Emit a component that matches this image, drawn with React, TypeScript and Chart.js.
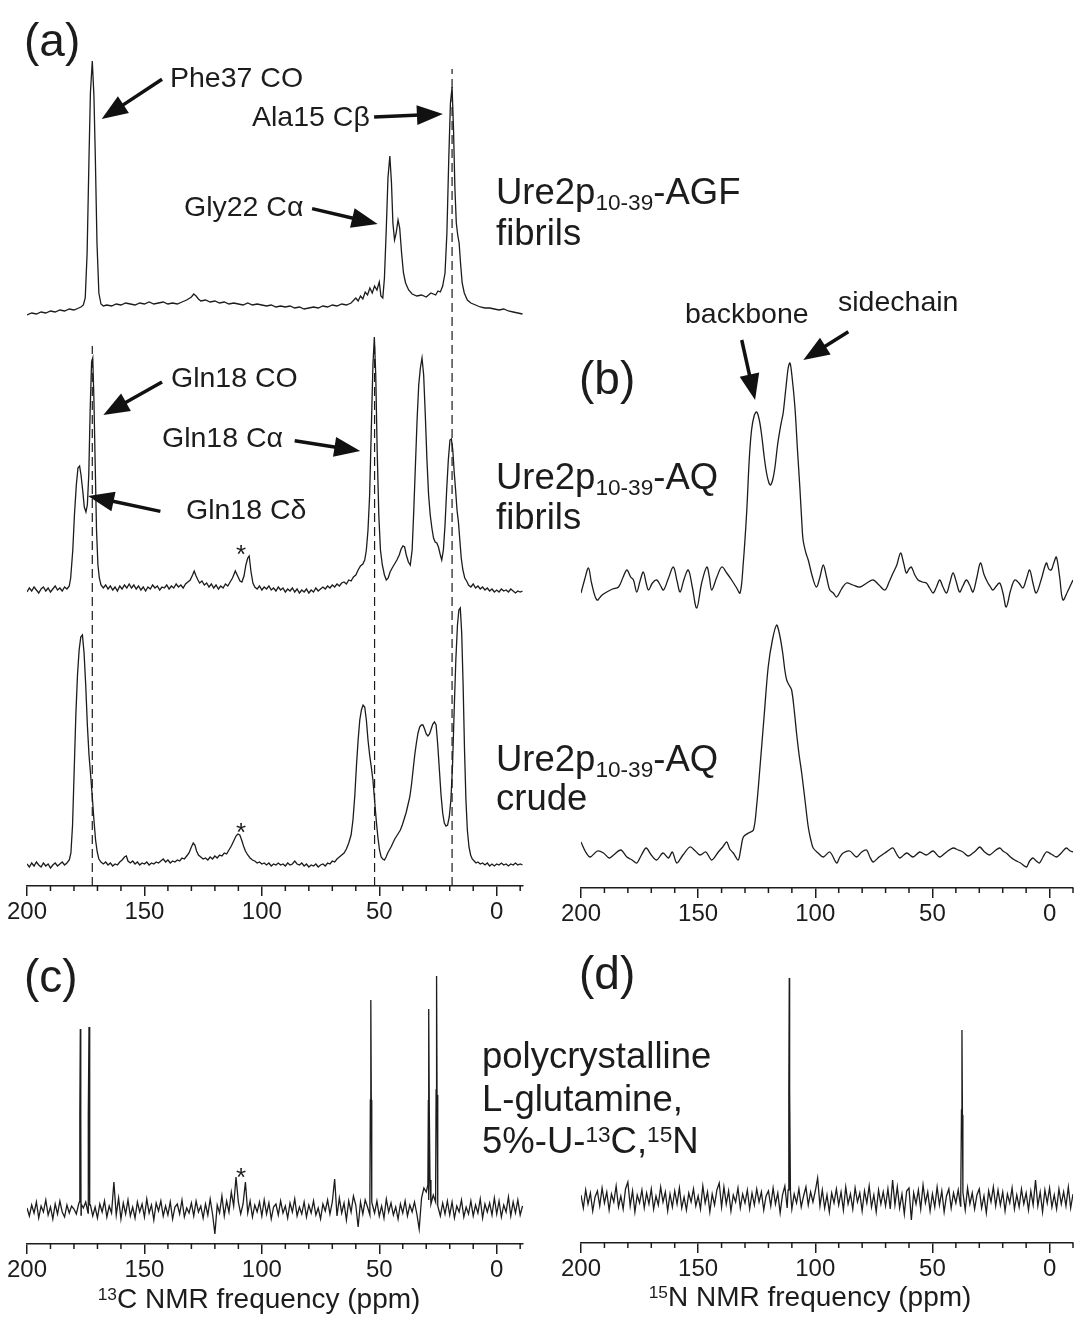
import React, { useEffect, useRef } from "react";
import { Chart, registerables } from "chart.js";

Chart.register(...registerables);

const FONT = "'Liberation Sans', Arial, Helvetica, sans-serif";
const INK = "#1c1c1c";
Chart.defaults.font.family = FONT;

type Pair = [number, number];

// ---------- axis ticks ----------
const majorTicks = [200, 150, 100, 50, 0];
const minorTicks = [190, 180, 170, 160, 140, 130, 120, 110, 90, 80, 70, 60, 40, 30, 20, 10, -10];

// ---------- (a) 13C spectra: [ppm, intensity] ----------
const agfFibrils13C: Pair[] = [
  [200, -7], [198, -5], [196, -6], [194, -4], [192, -5], [190, -3], [188, -4], [186, -2], [184, -3], [182, -1], [180, -2], [178, 0],
  [177, 1], [176, 3], [175.2, 10], [174.4, 55], [173.6, 150], [173.0, 215], [172.2, 247], [171.5, 212], [170.9, 150], [170.2, 65],
  [169.4, 15], [168.5, 4], [167.5, 2], [166, 3], [164, 2], [162, 4], [160, 3], [158, 5], [156, 4], [154, 3], [152, 5], [150, 4],
  [148, 6], [146, 4], [144, 5], [142, 6], [140, 4], [138, 5], [136, 4], [134, 6], [132, 8], [130, 11], [129, 14], [128, 12], [127, 9],
  [126, 7], [124, 8], [122, 6], [120, 7], [118, 5], [116, 6], [114, 4], [112, 5], [110, 4], [108, 3], [106, 5], [104, 3], [102, 4],
  [100, 3], [98, 2], [96, 3], [94, 1], [92, 2], [90, 1], [88, 2], [86, 0], [84, 1], [82, -1], [80, 0], [78, 1], [76, 0], [74, 2],
  [72, 1], [70, 3], [68, 2], [66, 4], [64, 3], [62, 5], [60, 10], [59, 7], [58, 12], [57, 9], [56, 16], [55, 13], [54, 20], [53, 15],
  [52, 22], [51, 18], [50, 26], [49.3, 12], [48.5, 10], [47.8, 30], [47, 80], [46.3, 130], [45.5, 152], [44.8, 125], [44.2, 85],
  [43.5, 68], [42.8, 75], [42, 88], [41.3, 80], [40.5, 55], [39.7, 35], [38.8, 25], [37.5, 18], [36, 14], [34, 12], [32, 13], [30, 11],
  [28, 15], [26, 13], [25, 17], [24, 16], [23, 22], [22, 35], [21.2, 75], [20.4, 150], [19.7, 205], [19.0, 221], [18.4, 180],
  [17.8, 120], [17.2, 85], [16.6, 73], [16, 65], [15.4, 45], [14.7, 25], [13.8, 15], [12.5, 8], [11, 5], [9, 3], [7, 1], [5, 0],
  [3, 0], [1, -1], [-1, -2], [-3, -1], [-5, -3], [-7, -4], [-9, -5], [-11, -6],
];

const aqFibrils13C: Pair[] = [
  [200, -2], [199, 2], [198, -1], [197, 3], [196, 0], [195, -3], [194, 1], [193, 3], [192, -1], [191, 2], [190, -2], [189, 1],
  [188, 4], [187, 0], [186, 2], [185, -1], [184, 3], [183, 1], [182, 4], [181.4, 12], [180.5, 40], [179.8, 75], [179, 105],
  [178.3, 122], [177.6, 124], [177, 115], [176.3, 100], [175.6, 83], [174.9, 78], [174.3, 85], [173.7, 115], [173.1, 180],
  [172.5, 228], [172.0, 232], [171.5, 190], [171, 130], [170.4, 60], [169.8, 25], [169.2, 12], [168.5, 5], [167.5, 2], [166.5, 5],
  [165.5, 1], [164.5, 4], [163.5, 0], [162.5, 3], [161.5, -1], [160.5, 4], [159.5, 1], [158.5, 5], [157.5, 2], [156.5, 6],
  [155.5, 2], [154.5, 5], [153.5, 1], [152.5, 4], [151.5, 0], [150.5, 3], [149.5, -1], [148.5, 3], [147.5, 1], [146.5, 5],
  [145.5, 2], [144.5, 4], [143.5, 0], [142.5, 3], [141.5, 2], [140.5, 5], [139.5, 1], [138.5, 4], [137.5, 2], [136.5, 6],
  [135.5, 3], [134.5, 5], [133.5, 2], [132.5, 6], [131.5, 8], [130.5, 10], [129.5, 15], [128.8, 19], [128, 14], [127.2, 10],
  [126.5, 7], [125.5, 9], [124.5, 5], [123.5, 7], [122.5, 3], [121.5, 6], [120.5, 2], [119.5, 5], [118.5, 1], [117.5, 4],
  [116.5, 2], [115.5, 6], [114.5, 4], [113.5, 8], [112.5, 12], [111.3, 19], [110.3, 14], [109.3, 9], [108.5, 8], [107.6, 14],
  [106.8, 25], [106, 32], [105.4, 34], [104.6, 18], [103.8, 7], [103, 3], [102, 1], [101, 4], [100, 0], [99, 3], [98, 1], [97, 4],
  [96, 0], [95, 2], [94, -1], [93, 3], [92, 0], [91, 2], [90, -2], [89, 1], [88, -1], [87, 2], [86, -2], [85, 1], [84, -3], [83, 0],
  [82, -2], [81, 1], [80, -3], [79, 0], [78, -2], [77, 2], [76, -1], [75, 1], [74, 3], [73, 1], [72, 4], [71, 2], [70, 5], [69, 3],
  [68, 6], [67, 4], [66, 7], [65, 8], [64, 6], [63, 10], [62, 9], [61, 13], [60, 15], [59, 20], [58, 24], [57, 26], [56.2, 30],
  [55.5, 40], [54.8, 60], [54.1, 95], [53.4, 160], [52.7, 225], [52.1, 253], [51.5, 215], [50.9, 140], [50.2, 75], [49.5, 40],
  [48.7, 25], [47.8, 15], [47, 10], [46.2, 12], [45.4, 18], [44.5, 22], [43.5, 26], [42.5, 30], [41.5, 35], [40.7, 41], [39.9, 44],
  [39.2, 43], [38.5, 35], [37.6, 28], [36.8, 25], [36, 40], [35.3, 80], [34.6, 125], [33.9, 170], [33.2, 205], [32.5, 222],
  [31.8, 232], [31.1, 215], [30.4, 175], [29.7, 130], [29, 95], [28.3, 75], [27.6, 62], [26.9, 52], [26.2, 48], [25.5, 47],
  [24.8, 43], [24.1, 36], [23.4, 30], [22.7, 40], [22, 65], [21.3, 100], [20.6, 130], [19.9, 150], [19.3, 151], [18.7, 140],
  [18.1, 118], [17.5, 100], [16.9, 80], [16.3, 68], [15.7, 50], [15.1, 32], [14.4, 20], [13.6, 12], [12.8, 9], [12, 5], [11, 3],
  [10, 6], [9, 2], [8, 4], [7, 1], [6, 3], [5, 0], [4, 2], [3, -1], [2, 1], [1, -2], [0, 0], [-1, -2], [-2, 1], [-3, -1], [-4, 0],
  [-5, -2], [-6, 1], [-7, -1], [-8, -3], [-9, -1], [-10, -2], [-11, -1],
];

const aqCrude13C: Pair[] = [
  [200, 1], [199, -2], [198, 2], [197, -1], [196, 3], [195, 0], [194, -2], [193, 2], [192, -1], [191, 1], [190, -3], [189, 0],
  [188, 2], [187, -1], [186, 1], [185, 3], [184, 0], [183, 2], [182, 5], [181.3, 12], [180.6, 40], [179.9, 95], [179.2, 150],
  [178.5, 190], [177.8, 215], [177.1, 228], [176.4, 230], [175.7, 212], [175, 180], [174.3, 140], [173.6, 110], [172.9, 90],
  [172.2, 68], [171.5, 45], [170.8, 25], [170.1, 13], [169.4, 6], [168.5, 3], [167.5, 1], [166.5, 3], [165.5, 0], [164.5, 2],
  [163.5, -1], [162.5, 1], [161.5, 0], [160.5, 3], [159.5, 5], [158.5, 8], [157.7, 9], [157, 4], [156, 2], [155, 4], [154, 1],
  [153, 3], [152, 0], [151, 2], [150, 1], [149, 3], [148, 0], [147, 2], [146, 1], [145, 3], [144, 2], [143, 4], [142, 6], [141, 3],
  [140, 5], [139, 2], [138, 4], [137, 3], [136, 5], [135, 4], [134, 7], [133, 6], [132, 9], [131, 12], [130, 18], [129.2, 22],
  [128.5, 20], [127.8, 14], [127, 10], [126, 8], [125, 6], [124, 7], [123, 5], [122, 8], [121, 6], [120, 9], [119, 7], [118, 10],
  [117, 9], [116, 12], [115, 11], [114, 15], [113, 19], [112, 24], [111, 29], [110.2, 31], [109.4, 30], [108.6, 25], [107.8, 19],
  [107, 14], [106, 10], [105, 7], [104, 5], [103, 4], [102, 2], [101, 3], [100, 1], [99, 2], [98, 0], [97, 2], [96, -1], [95, 1],
  [94, 0], [93, 2], [92, 0], [91, 1], [90, -1], [89, 2], [88, 0], [87, 1], [86, 4], [85, 1], [84, 0], [83, 2], [82, -1], [81, 1],
  [80, -2], [79, 0], [78, -1], [77, 1], [76, -2], [75, 0], [74, 1], [73, -1], [72, 2], [71, 1], [70, 4], [69, 3], [68, 6], [67, 8],
  [66, 10], [65, 12], [64, 16], [63, 22], [62, 30], [61.2, 45], [60.4, 70], [59.7, 100], [59, 125], [58.3, 145], [57.6, 155],
  [56.9, 160], [56.2, 158], [55.5, 145], [54.8, 125], [54.1, 110], [53.4, 98], [52.7, 85], [52, 65], [51.3, 45], [50.6, 28],
  [49.9, 15], [49.2, 8], [48.5, 6], [47.8, 5], [47.1, 8], [46.4, 12], [45.7, 15], [45, 18], [44.2, 22], [43.4, 26], [42.6, 29],
  [41.8, 32], [41, 35], [40.2, 40], [39.4, 46], [38.6, 52], [37.8, 60], [37, 68], [36.3, 80], [35.6, 95], [34.9, 110], [34.2, 122],
  [33.5, 132], [32.8, 138], [32.1, 140], [31.4, 140], [30.7, 136], [30, 131], [29.3, 129], [28.6, 131], [27.9, 136], [27.2, 141],
  [26.5, 143], [25.8, 140], [25.1, 120], [24.4, 95], [23.7, 70], [23, 52], [22.3, 42], [21.6, 39], [20.9, 40], [20.2, 48],
  [19.5, 65], [18.8, 100], [18.1, 155], [17.4, 205], [16.7, 240], [16.1, 255], [15.5, 257], [14.9, 232], [14.3, 180], [13.7, 115],
  [13.1, 65], [12.5, 35], [11.8, 18], [11.1, 10], [10.4, 6], [9.6, 4], [8.8, 2], [8, 3], [7, 1], [6, 2], [5, 0], [4, 2], [3, -1],
  [2, 1], [1, -1], [0, 1], [-1, 0], [-2, 2], [-3, 0], [-4, 1], [-5, -1], [-6, 1], [-7, 0], [-8, 2], [-9, 0], [-10, 1], [-11, 0],
];

// reference lines in (a): ppm position and height (intensity units above the axis)
const dashedPpm = [172.2, 52.0, 19.0];
const dashedTop = [540, 540, 817];

// ---------- (b) 15N spectra ----------
const aqFibrils15N: Pair[] = [
  [200, -8], [198.5, 5], [196.8, 17], [195.5, 2], [193.2, -15], [191, -10], [189, -7], [186.5, -4], [184, -2], [182, 8], [180.4, 15],
  [178.8, 8], [177.6, 5], [176.2, -7], [174.8, 4], [173.4, 13], [172.2, 2], [171.2, -5], [169.5, 2], [167.7, 5], [166.2, 0],
  [164.8, -5], [162.8, 6], [160.6, 18], [159, 4], [157.7, -7], [156, 6], [154.2, 15], [152.5, -2], [150.6, -23], [148.5, 2],
  [146.3, 18], [145.2, 8], [144.2, -5], [142, 8], [139.9, 18], [137.8, 12], [135.7, 5], [133.8, -2], [132.1, -8], [130.8, 20],
  [129.3, 72], [128.2, 125], [127.2, 155], [126, 170], [125, 173], [123.9, 165], [122.9, 150], [121.8, 128], [120.8, 112],
  [119.9, 103], [119.1, 100], [118.1, 106], [117.2, 118], [116.1, 140], [115.1, 155], [114.3, 165], [113.7, 172], [112.5, 198],
  [111.5, 218], [110.8, 222], [110, 210], [108.7, 178], [107.6, 135], [106.6, 98], [105.8, 65], [105.2, 45], [104, 32], [103, 25],
  [101.2, 8], [99.5, -2], [98, 8], [96.6, 20], [95.2, 8], [93.8, -5], [92.3, -8], [90.9, -12], [88.8, -4], [86.7, 2], [84, 0],
  [81, -2], [78, 2], [75.3, 5], [72.8, 0], [70.3, -5], [68.5, 3], [66.8, 12], [65.2, 20], [63.6, 32], [62.3, 22], [61.1, 12],
  [60, 16], [59, 18], [57.5, 10], [56.1, 5], [54.3, 3], [52.6, 2], [51.2, -3], [49.7, -8], [48.3, -2], [46.9, 5], [45.5, -2],
  [44, -8], [42.6, 2], [41.2, 12], [39.8, 3], [38.4, -7], [37, -1], [35.5, 5], [34.1, 0], [32.7, -7], [31, 8], [29.5, 22],
  [27.9, 10], [26.3, 2], [25.2, -2], [24.2, -5], [22.7, -1], [21.3, 2], [19.9, -8], [18.5, -22], [16.7, -6], [14.9, 5], [13.1, 2],
  [11.4, -3], [9.9, 6], [8.5, 15], [7.1, 2], [5.7, -8], [3.5, 6], [1.4, 22], [0.3, 16], [-0.7, 15], [-1.8, 22], [-2.9, 28],
  [-4.3, 8], [-5.7, -15], [-7.8, -6], [-10, 5],
];

const aqCrude15N: Pair[] = [
  [200, 13], [198, 3], [196.1, -2], [193, 4], [190.4, 2], [188, -3], [186.1, 0], [183, 5], [180.4, -2], [178.2, -5], [176.2, -8],
  [174.2, 0], [172.2, 7], [170, 0], [167.7, -5], [165, 2], [162.7, -3], [161, 3], [159.1, -8], [156.5, 0], [153.5, 8], [151.2, 4],
  [149.2, 0], [146.7, 3], [144.2, -5], [141.4, 3], [139.5, 8], [137.8, 13], [136.5, 6], [135, 2], [132.9, -5], [131.8, 6],
  [130.7, 18], [128.5, 22], [126.4, 25], [125, 50], [123.6, 88], [121.8, 140], [120.1, 188], [118.3, 215], [116.5, 230],
  [115.2, 220], [113.9, 202], [113, 185], [112.2, 175], [111.2, 170], [110.1, 165], [109, 145], [108, 122], [106.9, 100],
  [105.8, 82], [104.4, 55], [103, 28], [101.9, 15], [100.9, 7], [98.8, 2], [96.6, -2], [93.8, 3], [90.9, -8], [89.5, -2], [88.1, 2],
  [85.3, 4], [82.4, -2], [80.2, 3], [78.1, 5], [76.7, -2], [75.3, -7], [72.8, -2], [70.3, 2], [68.5, 5], [66.8, 7], [65.3, 1],
  [63.9, -3], [61, 2], [58.3, -2], [55.4, 3], [52.6, 0], [49.7, 4], [46.9, -2], [44, 3], [41.2, 7], [39, 5], [37, 3], [34.8, -1],
  [32.7, 2], [31.2, 5], [29.8, 8], [27.7, 3], [25.6, 0], [23.4, 4], [21.3, 7], [19.9, 4], [18.5, 2], [16.7, -2], [14.9, -5],
  [12.4, -8], [9.9, -12], [8.5, -6], [7.1, -3], [5.7, -6], [4.3, -8], [2.8, -2], [1.4, 3], [-0.7, 1], [-2.9, -2], [-5, 2],
  [-7.1, 7], [-8.8, 4], [-10, 3],
];

// ---------- (c) polycrystalline L-glutamine 13C ----------
const glnNoiseStart13C = 200; // ppm of first noise sample, 1 ppm per sample
const glnNoise13C: number[] = [
  2, -6, 5, -3, 8, -8, 4, -2, 10, -5,
  3, -9, 6, -4, 9, -2, -7, 5, -3, 4,
  1, -4, 6, -5, 2, 8, -3, 5, -6, 3,
  -8, 6, -2, 9, -7, 4, -3, 28, -5, 12,
  -9, 7, -4, 10, -6, 3, -8, 8, -2, 6,
  -7, 11, -3, 5, -10, 7, -1, 9, -6, 4,
  -5, 8, -9, 3, 6, -4, 10, -7, 2, -3,
  7, -6, 9, -2, 4, -8, 6, -5, 11, -4,
  -24, 5, -3, 14, -6, 9, -2, 18, 4, 33,
  8, -4, 6, 28, -3, 9, -7, 5, -2, 8,
  -6, 10, -4, 7, -9, 3, 6, -5, 9, -3,
  4, -8, 7, -2, 11, -6, 3, -4, 8, -7,
  5, -3, 9, -5, 2, -9, 6, -1, 10, -4,
  8, 31, -6, 12, -3, 7, -10, 9, -2, 14,
  5, -17, 8, -4, 10, 3, -5, 6, -3, 9,
  -6, 4, -8, 11, -2, 7, -5, 3, -9, 6,
  -3, 9, -6, 5, -2, 8, -4, -19, 12, 22,
  18, 10, 6, 15, 8, 4, -6, 7, -4, 9,
  -5, 8, -8, 4, -2, 10, -7, 3, -4, 9,
  -6, 5, -3, 11, -8, 6, -2, 7, -5, 12,
  -4, 9, -7, 5, -2, 13, -6, 8, -3, 10, -5, 4,
];
const glnPeaks13C: Pair[] = [
  [177.7, 8], [177.5, 95], [177.3, 181], [177.1, 95], [176.9, 6],
  [174.0, 7], [173.8, 95], [173.6, 183], [173.4, 95], [173.2, 5],
  [54.0, 10], [53.8, 110], [53.6, 210], [53.4, 110], [53.2, 8],
  [29.3, 25], [29.1, 110], [28.9, 201], [28.7, 100], [28.4, 30],
  [26.0, 20], [25.8, 120], [25.6, 234], [25.4, 115], [25.2, 12],
];

// ---------- (d) polycrystalline L-glutamine 15N ----------
const glnNoiseStart15N = 200;
const glnNoise15N: number[] = [
  5, -8, 10, -4, 7, -11, 3, 9, -6, 12,
  -3, 8, -10, 6, -2, 14, -7, 4, -9, 11,
  18, -6, 9, -12, 5, -3, 10, -8, 7, -4,
  11, -9, 4, -5, 13, -2, 8, -11, 6, -7,
  9, -4, 12, -8, 3, -10, 7, -2, 11, -6,
  4, -9, 14, -3, 8, -12, 6, -5, 10, 17,
  -7, 13, -4, 9, -11, 5, -2, 12, -8, 6,
  -3, 10, -9, 7, -5, 11, -2, 8, -10, 4,
  9, -6, 12, -4, 7, -13, 5, 14, -8, 10,
  -9, 6, -3, 11, -7, 4, 13, -5, 8, -2,
  9, 22, -6, 10, -8, 5, -12, 7, -3, 11,
  -5, 8, -10, 13, -4, 6, -9, 12, -2, 7,
  -11, 9, -3, 14, -7, 5, -12, 10, -4, 8,
  -6, 11, -9, 20, -5, 13, -8, 6, -14, 9,
  12, -20, 7, -4, 10, -9, 15, -3, 8, -11,
  6, -7, 13, -5, 9, -12, 4, 11, -8, 7,
  -3, 10, -6, 8, -10, 12, -4, 7, -9, 5,
  11, -8, 4, -13, 9, -2, 13, -6, 10, -5,
  8, -11, 6, -3, 12, -9, 5, -7, 11, -4,
  7, -10, 9, -5, 20, -6, 8, -12, 10, -3,
  12, -7, 5, -9, 11, -4, 8, -6, 13, -8, 6,
];
const glnPeaks15N: Pair[] = [
  [111.6, 10], [111.3, 110], [111.1, 222], [110.9, 110], [110.6, 8],
  [37.9, 8], [37.6, 90], [37.4, 170], [37.2, 85], [36.9, 6],
];

// ---------- helpers ----------
function mergeSpectrum(noise: number[], start: number, peaks: Pair[]): Pair[] {
  const pts: Pair[] = noise.map((v, i) => [start - i, v] as Pair);
  return pts.concat(peaks).sort((a, b) => b[0] - a[0]);
}

function lineSet(pairs: Pair[], offset: number, width = 1.3, tension = 0) {
  return {
    data: pairs.map(([x, y]) => ({ x, y: y + offset })),
    showLine: true,
    borderColor: INK,
    borderWidth: width,
    pointRadius: 0,
    tension,
  };
}

type Arrow = { from: Pair; to: Pair };

const decorPlugin = {
  id: "decor",
  afterDraw(chart: any, _args: any, opts: any) {
    const { ctx, chartArea, scales } = chart;
    const xs = scales.x;
    const ys = scales.y;
    ctx.save();
    ctx.strokeStyle = INK;
    ctx.lineWidth = 1.5;
    for (const v of opts.minor || []) {
      const px = xs.getPixelForValue(v);
      ctx.beginPath();
      ctx.moveTo(px, chartArea.bottom);
      ctx.lineTo(px, chartArea.bottom + 5);
      ctx.stroke();
    }
    for (const a of (opts.arrows || []) as Arrow[]) {
      const x1 = xs.getPixelForValue(a.from[0]);
      const y1 = ys.getPixelForValue(a.from[1]);
      const x2 = xs.getPixelForValue(a.to[0]);
      const y2 = ys.getPixelForValue(a.to[1]);
      const ang = Math.atan2(y2 - y1, x2 - x1);
      const hl = 26;
      const hw = 10;
      const c = Math.cos(ang);
      const s = Math.sin(ang);
      const bx = x2 - hl * c;
      const by = y2 - hl * s;
      ctx.lineWidth = 3.5;
      ctx.strokeStyle = "#111";
      ctx.beginPath();
      ctx.moveTo(x1, y1);
      ctx.lineTo(bx + 3 * c, by + 3 * s);
      ctx.stroke();
      ctx.fillStyle = "#111";
      ctx.beginPath();
      ctx.moveTo(x2, y2);
      ctx.lineTo(bx - hw * s, by + hw * c);
      ctx.lineTo(bx + hw * s, by - hw * c);
      ctx.closePath();
      ctx.fill();
    }
    ctx.restore();
  },
};

interface PanelCfg {
  canvasW: number;
  canvasH: number;
  axisY: number;
  padL: number;
  padR: number;
  xMin: number;
  xMax: number;
  datasets: any[];
  arrows: Arrow[];
}

function buildConfig(p: PanelCfg): any {
  return {
    type: "scatter",
    data: { datasets: p.datasets },
    options: {
      responsive: false,
      animation: false,
      devicePixelRatio: 1,
      layout: { padding: { left: p.padL, right: p.padR, top: 0, bottom: 0 } },
      plugins: {
        legend: { display: false },
        tooltip: { enabled: false },
        decor: { minor: minorTicks, arrows: p.arrows },
      },
      scales: {
        x: {
          type: "linear",
          min: p.xMin,
          max: p.xMax,
          reverse: true,
          afterBuildTicks: (s: any) => {
            s.ticks = majorTicks.map((v) => ({ value: v }));
          },
          afterFit: (s: any) => {
            s.height = p.canvasH - p.axisY;
          },
          border: { display: true, color: INK, width: 1.5 },
          grid: { display: true, drawOnChartArea: false, drawTicks: true, tickLength: 10, color: INK, lineWidth: 1.5 },
          ticks: { autoSkip: false, maxRotation: 0, padding: 2, color: INK, font: { family: FONT, size: 24 } },
        },
        y: { display: false, min: 0, max: p.axisY },
      },
    },
    plugins: [decorPlugin],
  };
}

function Panel({ left, top, cfg }: { left: number; top: number; cfg: PanelCfg }) {
  const ref = useRef<HTMLCanvasElement>(null);
  useEffect(() => {
    const chart = new Chart(ref.current as HTMLCanvasElement, buildConfig(cfg));
    return () => chart.destroy();
  }, []);
  return (
    <canvas
      ref={ref}
      width={cfg.canvasW}
      height={cfg.canvasH}
      style={{ position: "absolute", left, top, width: cfg.canvasW, height: cfg.canvasH }}
    />
  );
}

function Label({ x, base, size, center, children }: { x: number; base: number; size: number; center?: boolean; children: any }) {
  return (
    <div
      style={{
        position: "absolute",
        left: x,
        top: base - 0.8465 * size,
        fontSize: size,
        lineHeight: `${size}px`,
        fontFamily: FONT,
        color: INK,
        whiteSpace: "nowrap",
        transform: center ? "translateX(-50%)" : undefined,
      }}
    >
      {children}
    </div>
  );
}

const Sub = ({ children }: any) => (
  <span style={{ fontSize: "0.62em", position: "relative", top: "0.28em" }}>{children}</span>
);
const Sup = ({ children }: any) => (
  <span style={{ fontSize: "0.62em", position: "relative", top: "-0.5em" }}>{children}</span>
);

// panel geometry (pixels)
const A_H = 940;
const CD_H = 377;

export default function App() {
  const panelA: PanelCfg = {
    canvasW: 540,
    canvasH: A_H,
    axisY: 886,
    padL: 27,
    padR: 17,
    xMin: -11.2,
    xMax: 200,
    datasets: [
      ...dashedPpm.map((ppm, i) => ({
        data: [{ x: ppm, y: 0 }, { x: ppm, y: dashedTop[i] }],
        showLine: true,
        borderColor: INK,
        borderWidth: 1.2,
        borderDash: [9, 5],
        pointRadius: 0,
      })),
      lineSet(agfFibrils13C, 578),
      lineSet(aqFibrils13C, 296),
      lineSet(aqCrude13C, 21),
    ],
    arrows: [
      { from: [142.5, 806.7], to: [168.2, 767] },
      { from: [52.2, 769], to: [22.9, 772] },
      { from: [78.6, 677.4], to: [50.7, 662] },
      { from: [142.5, 504], to: [167.5, 471] },
      { from: [86.0, 445.3], to: [58.1, 435] },
      { from: [143.2, 374.6], to: [174.0, 390] },
    ],
  };
  const panelB: PanelCfg = {
    canvasW: 538,
    canvasH: A_H,
    axisY: 888,
    padL: 41,
    padR: 5,
    xMin: -10,
    xMax: 200,
    datasets: [lineSet(aqFibrils15N, 303, 1.3, 0.35), lineSet(aqCrude15N, 33, 1.3, 0.3)],
    arrows: [
      { from: [131.4, 548], to: [125.7, 488] },
      { from: [85.9, 556.3], to: [105.1, 528] },
    ],
  };
  const panelC: PanelCfg = {
    canvasW: 540,
    canvasH: CD_H,
    axisY: 304,
    padL: 27,
    padR: 17,
    xMin: -11.2,
    xMax: 200,
    datasets: [lineSet(mergeSpectrum(glnNoise13C, glnNoiseStart13C, glnPeaks13C), 34, 1.3)],
    arrows: [],
  };
  const panelD: PanelCfg = {
    canvasW: 538,
    canvasH: CD_H,
    axisY: 303,
    padL: 41,
    padR: 5,
    xMin: -10,
    xMax: 200,
    datasets: [lineSet(mergeSpectrum(glnNoise15N, glnNoiseStart15N, glnPeaks15N), 43, 1.3)],
    arrows: [],
  };

  const ann = 28.5;
  const big = 36.5;
  return (
    <div style={{ position: "absolute", left: 0, top: 0, width: 1078, height: 1317, background: "#fff", overflow: "hidden" }}>
      <Panel left={0} top={0} cfg={panelA} />
      <Panel left={540} top={0} cfg={panelB} />
      <Panel left={0} top={A_H} cfg={panelC} />
      <Panel left={540} top={A_H} cfg={panelD} />

      <Label x={24} base={56} size={46}>(a)</Label>
      <Label x={579} base={394} size={46}>(b)</Label>
      <Label x={24} base={992} size={46}>(c)</Label>
      <Label x={579} base={989} size={46}>(d)</Label>

      <Label x={170} base={87} size={ann}>Phe37 CO</Label>
      <Label x={252} base={126} size={ann}>Ala15 Cβ</Label>
      <Label x={184} base={216} size={ann}>Gly22 Cα</Label>
      <Label x={171} base={387} size={ann}>Gln18 CO</Label>
      <Label x={162} base={447} size={ann}>Gln18 Cα</Label>
      <Label x={186} base={519} size={ann}>Gln18 Cδ</Label>
      <Label x={236} base={563} size={26}>*</Label>
      <Label x={236} base={841} size={26}>*</Label>
      <Label x={236} base={1186} size={26}>*</Label>
      <Label x={685} base={323} size={ann}>backbone</Label>
      <Label x={838} base={311} size={ann}>sidechain</Label>

      <Label x={496} base={205} size={big}>Ure2p<Sub>10-39</Sub>-AGF</Label>
      <Label x={496} base={246} size={big}>fibrils</Label>
      <Label x={496} base={490} size={big}>Ure2p<Sub>10-39</Sub>-AQ</Label>
      <Label x={496} base={530} size={big}>fibrils</Label>
      <Label x={496} base={772} size={big}>Ure2p<Sub>10-39</Sub>-AQ</Label>
      <Label x={496} base={811} size={big}>crude</Label>

      <Label x={482} base={1069} size={big}>polycrystalline</Label>
      <Label x={482} base={1112} size={big}>L-glutamine,</Label>
      <Label x={482} base={1154} size={big}>5%-U-<Sup>13</Sup>C,<Sup>15</Sup>N</Label>

      <Label x={259} base={1309} size={28} center>
        <Sup>13</Sup>C NMR frequency (ppm)
      </Label>
      <Label x={810} base={1307} size={28} center>
        <Sup>15</Sup>N NMR frequency (ppm)
      </Label>
    </div>
  );
}
